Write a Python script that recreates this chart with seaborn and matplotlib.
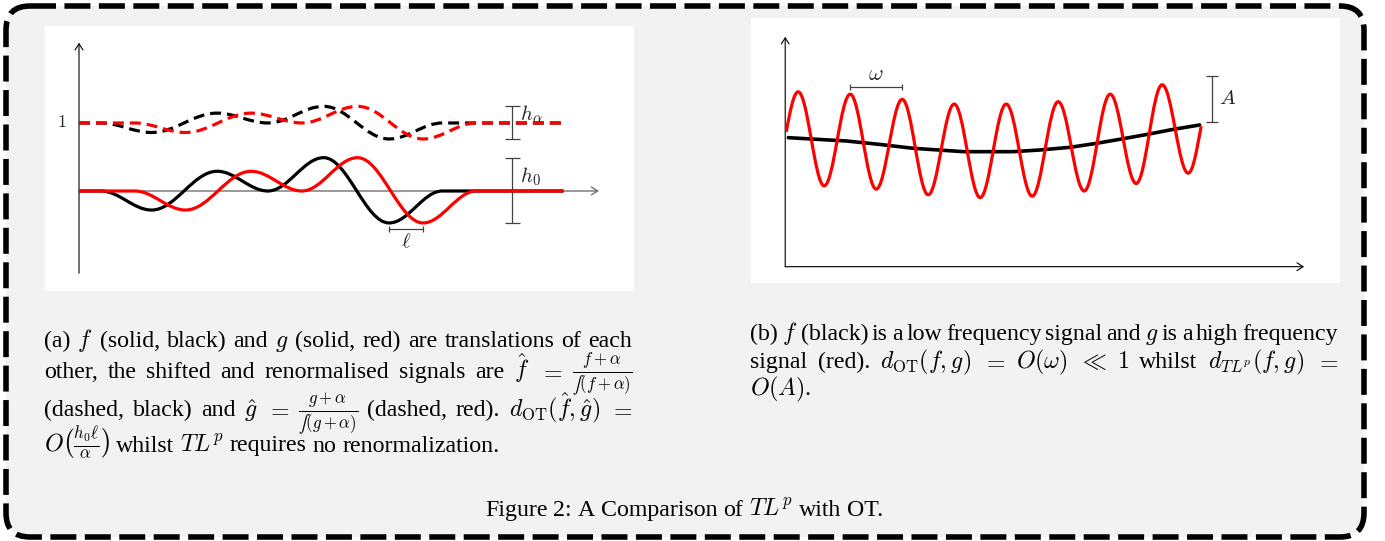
import matplotlib
matplotlib.use("Agg")
import numpy as np
import pandas as pd
import seaborn as sns
import matplotlib.pyplot as plt
from matplotlib.path import Path
from matplotlib.patches import PathPatch, FancyBboxPatch

# ---------------- data ----------------
# panel (a): knots of f (ends of flat parts and extrema), x in [0, 10], y with dashed baseline = 1
f_knot_x = [0.0, 0.45, 1.5, 2.85, 3.9, 5.05, 6.4, 7.5, 10.0]
f_knot_y = [0.0, 0.0, -0.28, 0.29, 0.0, 0.49, -0.47, 0.0, 0.0]
shift_ell = 0.7          # g is f translated by ell
alpha = 2.0              # shift used for the renormalised (dashed) signals

# panel (b): high frequency signal g (start, extrema, end) and low frequency signal f
hf_x = [0.02, 0.25, 0.75, 1.25, 1.75, 2.25, 2.75, 3.25, 3.75, 4.25, 4.75,
        5.25, 5.75, 6.25, 6.75, 7.25, 7.75, 8.0]
hf_y = [2.87, 3.72, 1.72, 3.67, 1.65, 3.56, 1.53, 3.46, 1.47, 3.46, 1.50,
        3.51, 1.61, 3.67, 1.77, 3.87, 1.99, 2.99]
lf_x = [0.06, 1.18, 1.83, 2.46, 3.43, 4.38, 4.90, 5.48, 5.96, 6.44, 6.92, 7.40, 7.97]
lf_y = [2.745, 2.674, 2.60, 2.519, 2.447, 2.447, 2.483, 2.540, 2.62, 2.711, 2.806, 2.909, 3.015]

# annotation values
a_xaxis_end, a_yaxis_lo, a_yaxis_hi = 10.73, -1.21, 2.18
a_bracket_x = 8.94
b_xaxis_end, b_yaxis_hi = 9.98, 4.89
omega_y = 3.82
A_x, A_lo, A_hi = 8.20, 3.07, 4.06

cap_a = [
    ["(a)", "$f$", "(solid,", "black)", "and", "$g$", "(solid,", "red)", "are",
     "translations", "of", "each"],
    ["other,", "the", "shifted", "and", "renormalised", "signals", "are",
     r"$\hat{f}$", "$=$", r"$\frac{f+\alpha}{∫(f+\alpha)}$"],
    ["(dashed,", "black)", "and", r"$\hat{g}$", "$=$", r"$\frac{g+\alpha}{∫(g+\alpha)}$",
     "(dashed,", "red).", r"$d_{\mathrm{OT}}(\hat{f},\hat{g})$", "$=$"],
    [r"$O\left(\frac{h_0\ell}{\alpha}\right)$", "whilst", "$TL^p$", "requires", "no",
     "renormalization."],
]
cap_b = [
    ["(b)", "$f$", "(black)", "is", "a", "low", "frequency", "signal", "and", "$g$",
     "is", "a", "high", "frequency"],
    ["signal", "(red).", r"$d_{\mathrm{OT}}(f,g)$", "$=$", r"$O(\omega)$", r"$\ll$", "$1$",
     "whilst", r"$d_{TL^p}(f,g)$", "$=$"],
    ["$O(A)$."],
]
cap_fig = ["Figure", "2:", "A", "Comparison", "of", "$TL^p$", "with", "OT."]

# ---------------- style ----------------
sns.set_theme(style="white")
plt.rcParams["font.family"] = ["Liberation Serif", "DejaVu Serif"]
plt.rcParams["mathtext.fontset"] = "cm"
plt.rcParams["lines.scale_dashes"] = False

W, H = 1385, 541
fig = plt.figure(figsize=(W / 100, H / 100), dpi=100)
fig.patch.set_facecolor("white")

bg = fig.add_axes([0, 0, 1, 1])
bg.set_xlim(0, W)
bg.set_ylim(H, 0)
bg.axis("off")
bg.add_patch(FancyBboxPatch((6, 6), 1358, 531, boxstyle="round,pad=0,rounding_size=24",
                            facecolor="#f2f2f2", edgecolor="black", linewidth=4.0,
                            linestyle=(0, (18.7, 6.1)), capstyle="butt"))


def panel_axes(l, t, r, b):
    ax = fig.add_axes([l / W, 1 - b / H, (r - l) / W, (b - t) / H])
    ax.set_facecolor("white")
    ax.set_xticks([])
    ax.set_yticks([])
    for s in ax.spines.values():
        s.set_visible(False)
    return ax


def smooth_path(xs, ys, k=0.3634, start_slope=None, end_slope=None):
    verts = [(xs[0], ys[0])]
    codes = [Path.MOVETO]
    n = len(xs)
    for i in range(n - 1):
        x0, y0, x1, y1 = xs[i], ys[i], xs[i + 1], ys[i + 1]
        d = k * (x1 - x0)
        c1, c2 = (x0 + d, y0), (x1 - d, y1)
        if i == 0 and start_slope is not None:
            c1 = (x0 + (x1 - x0) / 3, y0 + start_slope * (x1 - x0) / 3)
        if i == n - 2 and end_slope is not None:
            c2 = (x1 - (x1 - x0) / 3, y1 - end_slope * (x1 - x0) / 3)
        verts += [c1, c2, (x1, y1)]
        codes += [Path.CURVE4] * 3
    return Path(verts, codes)


def arrow(ax, start, end, color="black", lw=0.8):
    ax.annotate("", xy=end, xytext=start,
                arrowprops=dict(arrowstyle="->,head_length=0.55,head_width=0.35",
                                mutation_scale=8, color=color, lw=lw,
                                shrinkA=0, shrinkB=0), zorder=2)


# ---------------- panel (a) ----------------
axa = panel_axes(44.6, 26, 634, 290.7)
axa.set_xlim(-0.71, 11.455)
axa.set_ylim(-1.466, 2.426)

arrow(axa, (0, 0), (a_xaxis_end, 0), color="#707070", lw=1.0)
arrow(axa, (0, a_yaxis_lo), (0, a_yaxis_hi), color="black", lw=0.8)

g_knot_x = [f_knot_x[0]] + [x + shift_ell for x in f_knot_x[1:-1]] + [f_knot_x[-1]]
g_knot_y = list(f_knot_y)
fhat_y = [(v + alpha) / alpha for v in f_knot_y]
ghat_y = [(v + alpha) / alpha for v in g_knot_y]

axa.add_patch(PathPatch(smooth_path(f_knot_x, f_knot_y), fill=False, edgecolor="black",
                        lw=2.3, zorder=3))
axa.add_patch(PathPatch(smooth_path(g_knot_x, g_knot_y), fill=False, edgecolor="#ff0000",
                        lw=2.3, zorder=3.1))
axa.add_patch(PathPatch(smooth_path(f_knot_x, fhat_y), fill=False, edgecolor="black",
                        lw=2.3, linestyle=(0, (7.9, 4.3)), zorder=3.2))
axa.add_patch(PathPatch(smooth_path(g_knot_x, ghat_y), fill=False, edgecolor="#ff0000",
                        lw=2.3, linestyle=(0, (7.9, 4.3)), zorder=3.3))

bracket_col = "#404040"
hal_lo, hal_hi = min(fhat_y), max(fhat_y)
h0_lo, h0_hi = min(f_knot_y), max(f_knot_y)
axa.errorbar([a_bracket_x], [(hal_lo + hal_hi) / 2], yerr=[(hal_hi - hal_lo) / 2], fmt="none",
             ecolor=bracket_col, elinewidth=0.9, capsize=5.4, capthick=0.9, zorder=2)
axa.errorbar([a_bracket_x], [(h0_lo + h0_hi) / 2], yerr=[(h0_hi - h0_lo) / 2], fmt="none",
             ecolor=bracket_col, elinewidth=0.9, capsize=5.4, capthick=0.9, zorder=2)
ell_x0 = f_knot_x[6]
axa.errorbar([ell_x0 + shift_ell / 2], [-0.56], xerr=[shift_ell / 2], fmt="none",
             ecolor=bracket_col, elinewidth=0.9, capsize=2.2, capthick=0.9, zorder=2)

lab = 15
axa.text(-0.355, 1.0, "$1$", ha="center", va="center", fontsize=13, zorder=1)
axa.text(a_bracket_x + 0.16, 1.045, r"$h_\alpha$", ha="left", va="baseline", fontsize=lab, zorder=1)
axa.text(a_bracket_x + 0.16, 0.128, r"$h_0$", ha="left", va="baseline", fontsize=lab, zorder=1)
axa.text(ell_x0 + shift_ell / 2, -0.76, r"$\ell$", ha="center", va="center", fontsize=lab, zorder=1)

# ---------------- panel (b) ----------------
axb = panel_axes(751, 18, 1340, 283)

arrow(axb, (0, 0), (b_xaxis_end, 0), color="black", lw=0.8)
arrow(axb, (0, 0), (0, b_yaxis_hi), color="black", lw=0.8)

df_lf = pd.DataFrame({"x": lf_x, "y": lf_y})
sns.lineplot(data=df_lf, x="x", y="y", ax=axb, color="black", linewidth=2.6, zorder=3)
axb.add_patch(PathPatch(smooth_path(hf_x, hf_y, start_slope=6.0, end_slope=6.0), fill=False,
                        edgecolor="#ff0000", lw=2.3, zorder=4))
axb.set_xlabel("")
axb.set_ylabel("")
axb.set_xlim(-0.658, 10.67)
axb.set_ylim(-0.347, 5.291)

axb.errorbar([(hf_x[3] + hf_x[5]) / 2], [omega_y], xerr=[(hf_x[5] - hf_x[3]) / 2], fmt="none",
             ecolor=bracket_col, elinewidth=0.9, capsize=2.0, capthick=0.9, zorder=2)
axb.errorbar([A_x], [(A_lo + A_hi) / 2], yerr=[(A_hi - A_lo) / 2], fmt="none",
             ecolor=bracket_col, elinewidth=0.9, capsize=4.0, capthick=0.9, zorder=2)
axb.text((hf_x[3] + hf_x[5]) / 2, omega_y + 0.24, r"$\omega$", ha="center", va="center", fontsize=16)
axb.text(A_x + 0.14, (A_lo + A_hi) / 2, "$A$", ha="left", va="center", fontsize=lab)

# ---------------- captions (justified like LaTeX) ----------------
CAP = 17.2
space_px = CAP * 100 / 72 * 0.25


def make_lines(lines, baselines):
    out = []
    for toks, yb in zip(lines, baselines):
        out.append([bg.text(0, yb, t, fontsize=CAP, ha="left", va="baseline", color="black")
                    for t in toks])
    return out


la = make_lines(cap_a, [347, 378, 416.5, 451.5])
lb = make_lines(cap_b, [340, 368, 395.5])
lf = make_lines([cap_fig], [516])[0]

fig.canvas.draw()
rend = fig.canvas.get_renderer()


def layout(line, x_left, x_right=None, center=None):
    ws = [t.get_window_extent(rend).width for t in line]
    if x_right is not None and len(line) > 1:
        gap = (x_right - x_left - sum(ws)) / (len(line) - 1)
    else:
        gap = space_px
    if center is not None:
        x_left = center - (sum(ws) + gap * (len(line) - 1)) / 2
    x = x_left
    for t, w in zip(line, ws):
        t.set_x(x)
        x += w + gap


for i, line in enumerate(la):
    layout(line, 44, 632 if i < len(la) - 1 else None)
for i, line in enumerate(lb):
    layout(line, 750, 1338 if i < len(lb) - 1 else None)
layout(lf, 0, None, center=684)

fig.savefig("out.png", dpi=100, facecolor="white")
